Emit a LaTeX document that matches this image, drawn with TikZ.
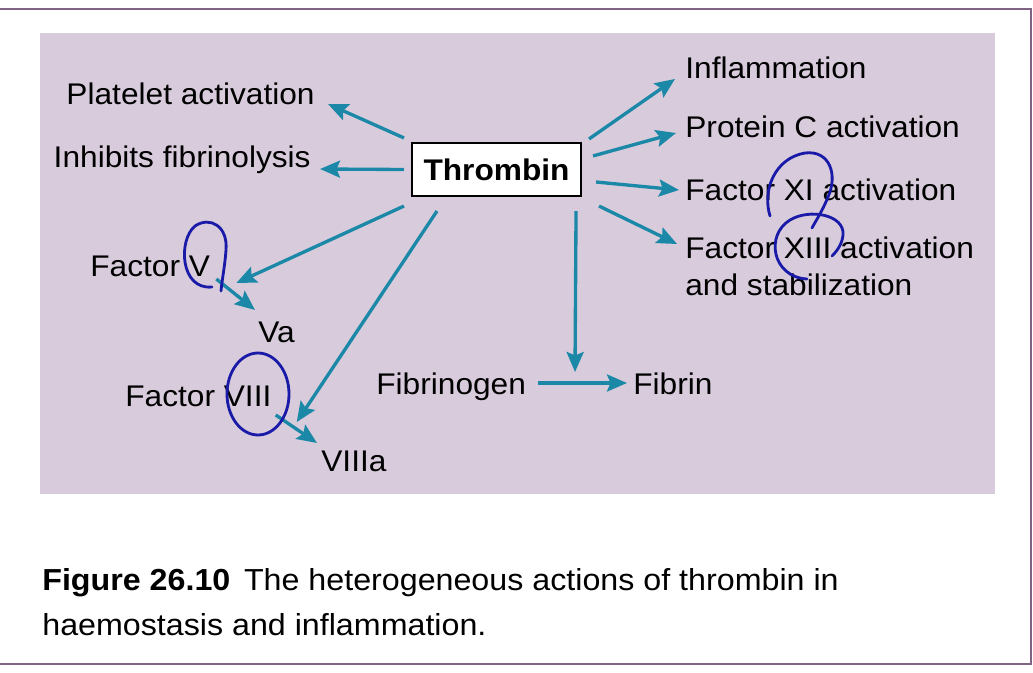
\documentclass[tikz,border=0pt]{standalone}
\usepackage{fontspec}
\setmainfont{Liberation Sans}[FakeStretch=1.06]
\usepackage{tikz}
\usetikzlibrary{arrows.meta,positioning}
\definecolor{panelbg}{RGB}{216,203,220}
\definecolor{arrowteal}{RGB}{26,136,166}
\definecolor{frameline}{RGB}{128,100,132}
\definecolor{inkblue}{RGB}{26,26,168}

\begin{document}
\begin{tikzpicture}[
    x=0.02cm, y=-0.02cm,
    every node/.style={font=\fontsize{17}{21}\selectfont, inner sep=0pt},
    box/.style={
        draw,
        line width=1.2pt,
        fill=white,
        minimum width=3.38cm,
        minimum height=1.06cm,
        font=\fontsize{17}{21}\selectfont\bfseries
    },
    arrow/.style={-{Stealth[length=0.4cm, width=0.34cm, inset=0.07cm]}, line width=1.9pt, draw=arrowteal, fill=arrowteal},
    scribble/.style={draw=inkblue, line width=1.6pt, line cap=round}
]
\useasboundingbox (0,0) rectangle (1033,672);
\draw[frameline, line width=1.6pt] (0,9) -- (1031,9) -- (1031,664) -- (0,664);
\fill[panelbg] (40,33) rectangle (995,494);

\node[box] (thr) at (496.5,169.5) {Thrombin};
\node[anchor=base east] (plat) at (315,105) {Platelet activation};
\node[anchor=base east] (inh) at (311,168) {Inhibits fibrinolysis};
\node[anchor=base west] (fv) at (90,276) {Factor V};
\node[anchor=base west] (va) at (258,342) {Va};
\node[anchor=base west] (fviii) at (125,406) {Factor VIII};
\node[anchor=base west] (fviiia) at (321,471) {VIIIa};
\node[anchor=base west] (fbg) at (376,394) {Fibrinogen};
\node[anchor=base west] (fbn) at (633,394) {Fibrin};
\node[anchor=base west] (infl) at (685,79) {Inflammation};
\node[anchor=base west] (protc) at (685,138) {Protein C activation};
\node[anchor=base west] (fxi) at (685,200) {Factor XI activation};
\node[anchor=base west, align=left] (fxiii) at (685,295) {Factor XIII activation\\and stabilization};
\coordinate (junc) at (575,372);

\draw[arrow] ([shift={(-7,-4)}]thr.north west) -- ([shift={(13,-1)}]plat.base east);
\draw[arrow] ([shift={(-7,0)}]thr.west) -- ([shift={(9,1)}]inh.base east);
\draw[arrow] ([shift={(-7,9)}]thr.south west) -- ([shift={(26,7)}]fv.base east);
\draw[arrow] ([shift={(26,14)}]thr.south west) -- ([shift={(25,16)}]fviii.base east);
\draw[arrow] ([shift={(7,-3)}]thr.north east) -- ([shift={(-10,0)}]infl.base west);
\draw[arrow] ([shift={(11,14)}]thr.north east) -- ([shift={(-9,-5)}]protc.base west);
\draw[arrow] ([shift={(14,12.5)}]thr.east) -- ([shift={(-6,-10)}]fxi.base west);
\draw[arrow] ([shift={(17,9)}]thr.south east) -- ([shift={(-8,-51)}]fxiii.base west);
\draw[arrow] ([shift={(-6,14)}]thr.south east) -- (junc);
\draw[arrow] ([shift={(12,-11)}]fbg.base east) -- ([shift={(-6,-11)}]fbn.base west);
\draw[arrow] ([shift={(6,3)}]fv.base east) -- ([shift={(-3,-32)}]va.base west);
\draw[arrow] ([shift={(4,9)}]fviii.base east) -- ([shift={(-4,-28)}]fviiia.base west);

\draw[scribble] (212,287) .. controls (180,290) and (178,240) .. (195,226) .. controls (210,216) and (228,226) .. (226,250) .. controls (225,265) and (222,280) .. (221,291);
\draw[scribble] (258,394) ellipse [x radius=31, y radius=41];
\draw[scribble] (770,216) .. controls (762,190) and (775,158) .. (805,153) .. controls (830,150) and (838,175) .. (828,197) .. controls (822,212) and (815,222) .. (812,228);
\draw[scribble] (807,279) .. controls (772,277) and (765,235) .. (790,220) .. controls (810,208) and (845,215) .. (843,235) .. controls (842,245) and (836,252) .. (832,256);

\node[anchor=base west, align=left, font=\fontsize{17.3}{25.6}\selectfont] (cap) at (42,635) {\textbf{Figure 26.10}\hspace{0.45em}The heterogeneous actions of thrombin in\\haemostasis and inflammation.};
\end{tikzpicture}
\end{document}
